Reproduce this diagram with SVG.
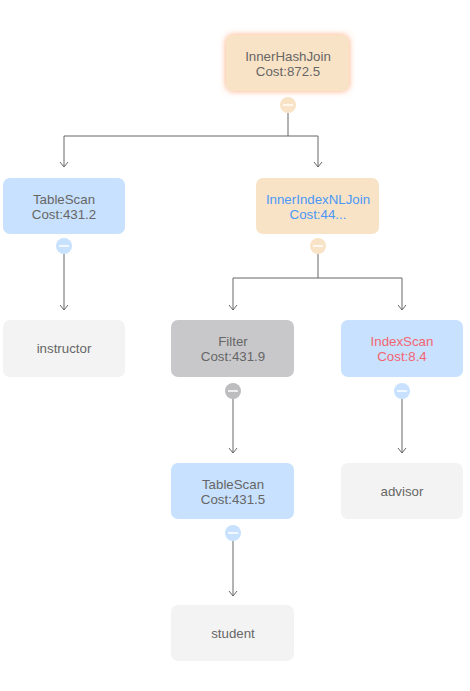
<svg xmlns="http://www.w3.org/2000/svg" width="470" height="691" viewBox="0 0 470 691">
<defs>
<style>
.t{font-family:"Liberation Sans",Arial,sans-serif;font-size:13.3px;fill:#666;text-anchor:middle}
.blue{fill:#c7e1fe}
.orange{fill:#f9e3c6}
.gray{fill:#c8c8cb}
.leaf{fill:#f3f3f3}
.edge{fill:none;stroke:#666;stroke-width:1}
.bar{stroke:#fff;stroke-width:1.5}
.tb{fill:#4a98f7}
.tr{fill:#f46471}
</style>
<marker id="arr" markerWidth="10" markerHeight="10" refX="9" refY="5" orient="auto" markerUnits="userSpaceOnUse" viewBox="0 0 10 10">
<path d="M4,1 L9,5 L4,9" fill="none" stroke="#666" stroke-width="1"/>
</marker>
<filter id="glow" x="-30%" y="-40%" width="160%" height="180%">
<feDropShadow dx="0" dy="0" stdDeviation="3" flood-color="#ff8a4c" flood-opacity="0.75"/>
</filter>
</defs>
<rect width="470" height="691" fill="#fff"/>
<g id="connectors">
<path class="edge" d="M288,113 V136 M64,136 H318"/>
<path class="edge" d="M64,136 V167" marker-end="url(#arr)"/>
<path class="edge" d="M318,136 V167" marker-end="url(#arr)"/>
<path class="edge" d="M64,254 V310" marker-end="url(#arr)"/>
<path class="edge" d="M318,254 V278 M233,278 H402"/>
<path class="edge" d="M233,278 V310" marker-end="url(#arr)"/>
<path class="edge" d="M402,278 V310" marker-end="url(#arr)"/>
<path class="edge" d="M233,399 V453" marker-end="url(#arr)"/>
<path class="edge" d="M402,399 V453" marker-end="url(#arr)"/>
<path class="edge" d="M233,541 V596" marker-end="url(#arr)"/>
</g>
<g id="n-innerhashjoin">
<rect x="226" y="35" width="123" height="56" rx="7" class="orange" filter="url(#glow)"/>
<text class="t" x="288" y="61">InnerHashJoin</text>
<text class="t" x="288" y="76">Cost:872.5</text>
<circle cx="288" cy="105" r="8" class="orange"/>
<line class="bar" x1="283" y1="105" x2="293" y2="105"/>
</g>
<g id="n-tablescan1">
<rect x="3" y="178" width="122" height="56" rx="7" class="blue"/>
<text class="t" x="64" y="204">TableScan</text>
<text class="t" x="64" y="219">Cost:431.2</text>
<circle cx="64" cy="246" r="8" class="blue"/>
<line class="bar" x1="59" y1="246" x2="69" y2="246"/>
</g>
<g id="n-innerindexnljoin">
<rect x="256" y="178" width="123" height="56" rx="7" class="orange"/>
<text class="t tb" x="318" y="204">InnerIndexNLJoin</text>
<text class="t tb" x="318" y="219">Cost:44...</text>
<circle cx="318" cy="246" r="8" class="orange"/>
<line class="bar" x1="313" y1="246" x2="323" y2="246"/>
</g>
<g id="n-instructor">
<rect x="3" y="320" width="122" height="57" rx="7" class="leaf"/>
<text class="t" x="64" y="353">instructor</text>
</g>
<g id="n-filter">
<rect x="171" y="320" width="123" height="57" rx="7" class="gray"/>
<text class="t" x="233" y="346">Filter</text>
<text class="t" x="233" y="361">Cost:431.9</text>
<circle cx="233" cy="391" r="8" fill="#bdbdbf"/>
<line class="bar" x1="228" y1="391" x2="238" y2="391"/>
</g>
<g id="n-indexscan">
<rect x="341" y="320" width="122" height="57" rx="7" class="blue"/>
<text class="t tr" x="402" y="346">IndexScan</text>
<text class="t tr" x="402" y="361">Cost:8.4</text>
<circle cx="402" cy="391" r="8" class="blue"/>
<line class="bar" x1="397" y1="391" x2="407" y2="391"/>
</g>
<g id="n-tablescan2">
<rect x="171" y="463" width="123" height="56" rx="7" class="blue"/>
<text class="t" x="233" y="489">TableScan</text>
<text class="t" x="233" y="504">Cost:431.5</text>
<circle cx="233" cy="533" r="8" class="blue"/>
<line class="bar" x1="228" y1="533" x2="238" y2="533"/>
</g>
<g id="n-advisor">
<rect x="341" y="463" width="122" height="56" rx="7" class="leaf"/>
<text class="t" x="402" y="496">advisor</text>
</g>
<g id="n-student">
<rect x="171" y="605" width="123" height="56" rx="7" class="leaf"/>
<text class="t" x="233" y="638">student</text>
</g>
</svg>
